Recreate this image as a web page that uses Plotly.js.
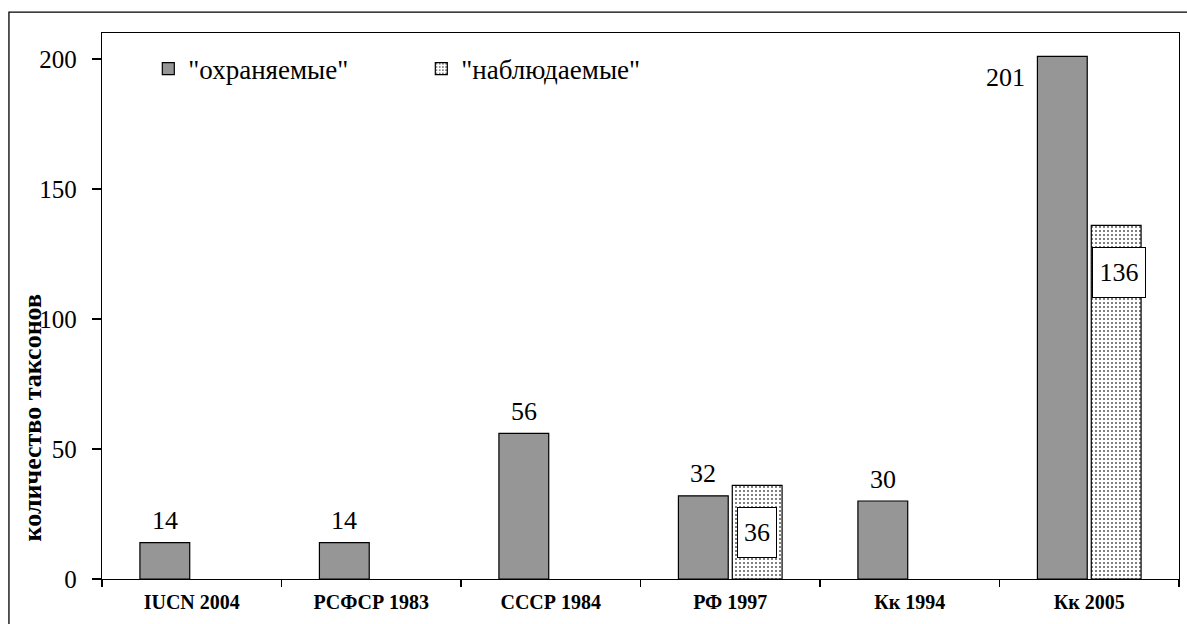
<!DOCTYPE html>
<html>
<head>
<meta charset="utf-8">
<script src="https://cdn.plot.ly/plotly-3.0.1.min.js"></script>
<style>
html,body{margin:0;padding:0;background:#fff;}
#chart{width:1187px;height:624px;}
</style>
</head>
<body>
<div id="chart"></div>
<script>
// ---- data ----
const categories = ['IUCN 2004', 'РСФСР 1983', 'СССР 1984', 'РФ 1997', 'Кк 1994', 'Кк 2005'];
const protectedVals = [14, 14, 56, 32, 30, 201];
const observedVals = [null, null, null, 36, null, 136];
const seriesNames = ['"охраняемые"', '"наблюдаемые"'];
const yTickVals = [0, 50, 100, 150, 200];
const yTitle = 'количество таксонов';

// ---- style ----
const FONT = 'Liberation Serif';
const bargap = 0.4;
const off = (1 - bargap) / 4; // center offset of each bar in a 2-bar group (category units)

const traces = [
  {
    type: 'bar', name: seriesNames[0], x: categories, y: protectedVals,
    marker: {color: '#969696', line: {color: '#000', width: 1.2}},
    hoverinfo: 'x+y'
  },
  {
    type: 'bar', name: seriesNames[1], x: categories, y: observedVals,
    marker: {color: '#ffffff', line: {color: '#000', width: 1.2},
      pattern: {shape: '.', size: 4, solidity: 0.2, fgcolor: '#555555', bgcolor: '#ffffff', fillmode: 'replace'}},
    hoverinfo: 'x+y'
  }
];

const LBL = 26;
const annotations = [];
protectedVals.forEach((v, i) => {
  if (v == null) return;
  const last = i === protectedVals.length - 1;
  annotations.push({x: i - off, y: v, xref: 'x', yref: 'y', text: String(v), showarrow: false,
    xanchor: last ? 'right' : 'center', yanchor: 'middle',
    xshift: last ? -35 : 0, yshift: last ? -21 : 22,
    font: {family: FONT, size: LBL, color: '#000'}});
});
observedVals.forEach((v, i) => {
  if (v == null) return;
  const big = v > 100;
  annotations.push({x: i + off, y: big ? v * 0.866 : v / 2, xref: 'x', yref: 'y', text: String(v), showarrow: false,
    xanchor: 'center', yanchor: 'middle', xshift: big ? 3 : 0,
    width: big ? 52 : 38, height: 49, borderpad: 0,
    bordercolor: '#000', borderwidth: 1, bgcolor: '#fff',
    font: {family: FONT, size: LBL, color: '#000'}});
});
// rotated y title (placed as in the reference)
annotations.push({x: -0.065, y: 0.296, xref: 'paper', yref: 'paper', text: '<b>' + yTitle + '</b>',
  textangle: -90, showarrow: false, xanchor: 'center', yanchor: 'middle',
  font: {family: FONT, size: 26, color: '#000'}});

const layout = {
  width: 1187, height: 624,
  margin: {l: 102, r: 8, t: 33, b: 45, pad: 0},
  paper_bgcolor: '#fff', plot_bgcolor: '#fff',
  font: {family: FONT, color: '#000', size: 21},
  barmode: 'group', bargap: bargap, bargroupgap: 0.075,
  showlegend: true,
  legend: {orientation: 'h', x: 0.043, y: 0.934, xanchor: 'left', yanchor: 'middle',
    font: {family: FONT, size: 27, color: '#000'}, bgcolor: 'rgba(0,0,0,0)',
    entrywidth: 228, entrywidthmode: 'pixels', traceorder: 'normal'},
  xaxis: {type: 'category', showline: true, linecolor: '#000', linewidth: 1.2, mirror: true,
    ticks: 'outside', tickson: 'boundaries', ticklen: 7, tickcolor: '#000', tickwidth: 1.2,
    showgrid: false, zeroline: false,
    tickfont: {family: FONT, size: 20, color: '#000', weight: 'bold'},
    ticklabelstandoff: 5},
  yaxis: {range: [0, 210], tickvals: yTickVals, showline: true, linecolor: '#000', linewidth: 1.2, mirror: true,
    ticks: 'outside', ticklen: 9, tickcolor: '#000', tickwidth: 1.2,
    showgrid: false, zeroline: false,
    tickfont: {family: FONT, size: 25, color: '#000'},
    ticklabelstandoff: 10},
  shapes: [
    {type: 'rect', xref: 'paper', yref: 'paper', x0: -0.0864, x1: 1.05, y0: -0.2, y1: 1.0384,
      line: {color: '#000', width: 1.3}, fillcolor: 'rgba(0,0,0,0)', layer: 'below'}
  ],
  annotations: annotations
};

Plotly.newPlot('chart', traces, layout, {displayModeBar: false, staticPlot: true});
</script>
</body>
</html>
